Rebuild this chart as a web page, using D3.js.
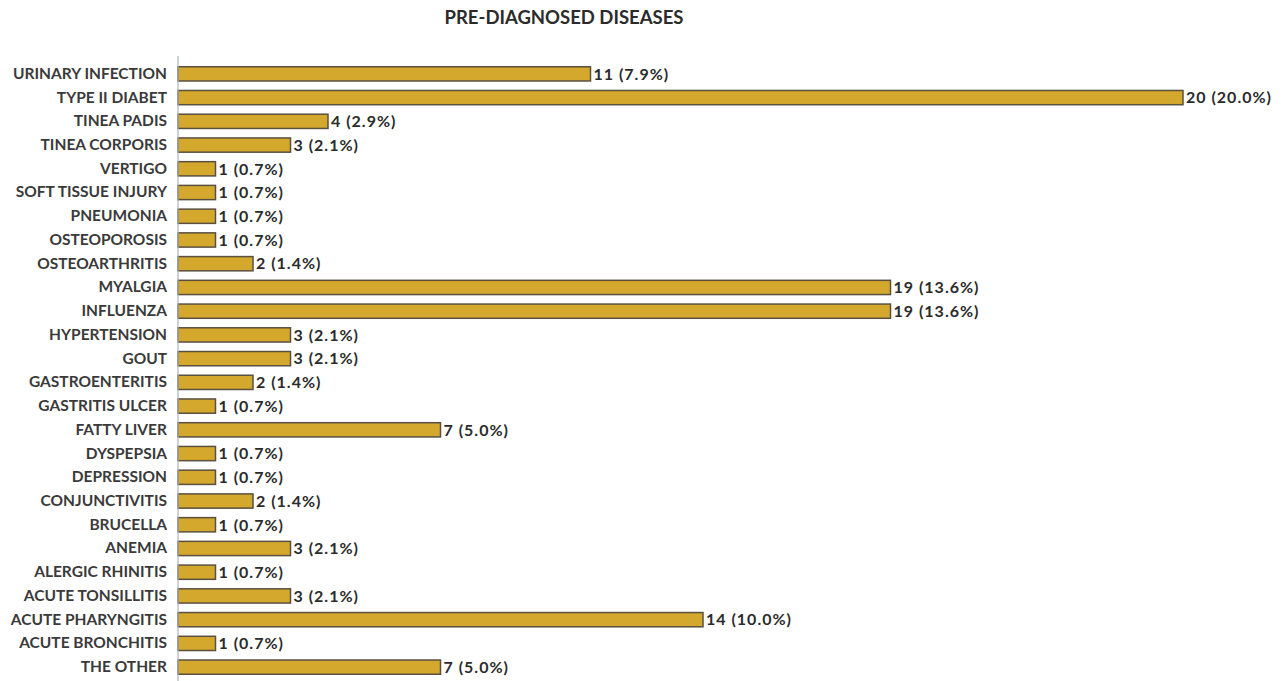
<!DOCTYPE html>
<html><head><meta charset="utf-8">
<script src="https://cdn.jsdelivr.net/npm/d3@7"></script>
<style>body{margin:0;background:#fff}svg{display:block}</style>
</head><body><div id="chart"></div>
<script>
const categories = ["URINARY INFECTION","TYPE II DIABET","TINEA PADIS","TINEA CORPORIS","VERTIGO","SOFT TISSUE INJURY","PNEUMONIA","OSTEOPOROSIS","OSTEOARTHRITIS","MYALGIA","INFLUENZA","HYPERTENSION","GOUT","GASTROENTERITIS","GASTRITIS ULCER","FATTY LIVER","DYSPEPSIA","DEPRESSION","CONJUNCTIVITIS","BRUCELLA","ANEMIA","ALERGIC RHINITIS","ACUTE TONSILLITIS","ACUTE PHARYNGITIS","ACUTE BRONCHITIS","THE OTHER"];
// bar lengths as drawn in the picture (the TYPE II DIABET bar is drawn longer than its label)
const barValues = [11,26.8,4,3,1,1,1,1,2,19,19,3,3,2,1,7,1,1,2,1,3,1,3,14,1,7];
const counts = [11,20,4,3,1,1,1,1,2,19,19,3,3,2,1,7,1,1,2,1,3,1,3,14,1,7];
const percents = ["7.9%","20.0%","2.9%","2.1%","0.7%","0.7%","0.7%","0.7%","1.4%","13.6%","13.6%","2.1%","2.1%","1.4%","0.7%","5.0%","0.7%","0.7%","1.4%","0.7%","2.1%","0.7%","2.1%","10.0%","0.7%","5.0%"];
const title = "PRE-DIAGNOSED DISEASES";

const W = 1288, H = 681;
const svg = d3.select("#chart").append("svg").attr("width", W).attr("height", H);
const font = "Lato, 'Open Sans', sans-serif";

const x = d3.scaleLinear().domain([0, 28]).range([178, 178 + 28 * 37.5]);
const y = d3.scaleBand().domain(categories).range([62, 679]).paddingInner(0.4).paddingOuter(0.2);

svg.append("text").attr("x", 564).attr("y", 24).attr("text-anchor", "middle")
  .attr("font-family", font).attr("font-weight", 700).attr("font-size", 18.5)
  .attr("fill", "#2b2b2b").text(title);

// bars
svg.selectAll("rect.bar").data(categories).join("rect").attr("class", "bar")
  .attr("x", x(0)).attr("y", d => y(d))
  .attr("width", (d, i) => x(barValues[i]) - x(0))
  .attr("height", y.bandwidth())
  .attr("fill", "#d4a82c").attr("stroke", "#5a5040").attr("stroke-width", 1.5);

// value labels
svg.selectAll("text.val").data(categories).join("text").attr("class", "val")
  .attr("x", (d, i) => x(barValues[i]) + 3)
  .attr("y", d => y(d) + y.bandwidth() / 2)
  .attr("dy", "0.36em")
  .attr("font-family", font).attr("font-weight", 700).attr("font-size", 16)
  .attr("letter-spacing", 1)
  .attr("fill", "#2b2b2b")
  .text((d, i) => `${counts[i]} (${percents[i]})`);

// y axis
const yAxis = d3.axisLeft(y).tickSize(0).tickPadding(11);
const g = svg.append("g").attr("transform", `translate(${x(0)},0)`).call(yAxis);
g.select(".domain").attr("stroke", "#b0b4bc").attr("stroke-width", 1.2).attr("d", `M0,56V681`);
g.selectAll("text").attr("font-family", font).attr("font-weight", 700).attr("font-size", 15.5).attr("fill", "#3a3a3a");
</script></body></html>
